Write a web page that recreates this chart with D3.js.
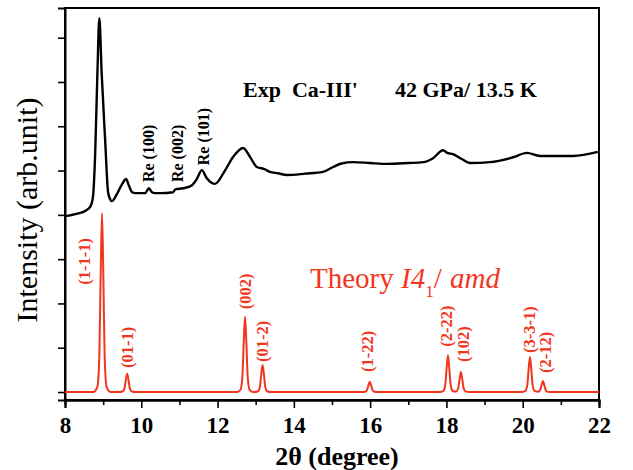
<!DOCTYPE html>
<html>
<head>
<meta charset="utf-8">
<script src="https://cdn.jsdelivr.net/npm/d3@7"></script>
<style>
  body { margin: 0; background: #fff; }
  svg text { font-family: "Liberation Serif", "DejaVu Serif", serif; }
</style>
</head>
<body>
<div id="chart"></div>
<script>
var expCurve = [
  [8.0,3.97],[8.3,4.02],[8.55,4.10],[8.66,4.18],[8.73,4.38],[8.79,5.35],[8.85,7.22],[8.90,8.44],
  [8.96,7.22],[9.05,5.73],[9.13,4.51],[9.18,4.36],[9.23,4.31],[9.35,4.45],[9.50,4.70],[9.60,4.81],
  [9.68,4.65],[9.76,4.51],[9.84,4.49],[10.10,4.49],[10.20,4.60],[10.28,4.51],[10.36,4.49],[10.49,4.49],
  [10.83,4.51],[10.90,4.58],[11.10,4.60],[11.33,4.67],[11.45,4.80],[11.59,5.01],[11.70,4.85],[11.85,4.72],
  [11.93,4.70],[12.20,5.01],[12.41,5.31],[12.67,5.51],[12.85,5.31],[13.03,5.08],[13.24,5.03],[13.37,4.97],
  [13.58,4.94],[13.82,4.90],[14.30,4.93],[14.76,4.97],[15.03,5.08],[15.25,5.16],[15.55,5.19],[16.00,5.17],
  [16.44,5.15],[17.00,5.17],[17.39,5.19],[17.65,5.28],[17.91,5.46],[18.02,5.40],[18.17,5.37],[18.40,5.26],
  [18.62,5.17],[19.14,5.19],[19.75,5.30],[20.11,5.40],[20.45,5.33],[21.00,5.33],[21.32,5.33],[21.97,5.42]
];

// simulated I4_1/amd pattern
var theoryCurve = [
  [8.0,0],
  [8.75,0],[8.85,0.12],[8.90,0.81],[8.935,2.63],[8.97,4.04],[9.005,2.63],[9.04,0.81],[9.09,0.12],[9.19,0],
  [9.41,0],[9.51,0.012],[9.56,0.082],[9.595,0.27],[9.63,0.41],[9.665,0.27],[9.70,0.082],[9.75,0.012],[9.85,0],
  [12.50,0],[12.60,0.05],[12.65,0.34],[12.685,1.11],[12.72,1.70],[12.755,1.11],[12.79,0.34],[12.84,0.05],[12.94,0],
  [12.96,0],[13.06,0.018],[13.11,0.12],[13.145,0.40],[13.18,0.61],[13.215,0.40],[13.25,0.12],[13.30,0.018],[13.40,0],
  [15.77,0],[15.87,0.007],[15.92,0.046],[15.955,0.15],[15.99,0.23],[16.025,0.15],[16.06,0.046],[16.11,0.007],[16.21,0],
  [17.82,0],[17.92,0.025],[17.97,0.17],[18.005,0.54],[18.04,0.83],[18.075,0.54],[18.11,0.17],[18.16,0.025],[18.21,0.01],
  [18.26,0.014],[18.31,0.09],[18.345,0.29],[18.38,0.45],[18.415,0.29],[18.45,0.09],[18.50,0.014],[18.60,0],
  [19.97,0],[20.07,0.024],[20.12,0.16],[20.155,0.51],[20.19,0.79],[20.225,0.51],[20.26,0.16],[20.31,0.024],[20.37,0.01],
  [20.41,0.008],[20.46,0.05],[20.495,0.16],[20.53,0.25],[20.565,0.16],[20.60,0.05],[20.65,0.008],[20.75,0],
  [22.0,0]
];

// hkl labels of the theory peaks, anchored (2theta, intensity) at the label's lower end
var hklLabels = ["(1-1-1)", "(01-1)", "(002)", "(01-2)", "(1-22)", "(2-22)", "(102)", "(3-3-1)", "(2-12)"];
var hklX = [8.52, 9.63, 12.72, 13.19, 15.94, 17.99, 18.46, 20.19, 20.61];
var hklY = [2.42, 0.54, 1.87, 0.68, 0.45, 1.02, 0.68, 0.88, 0.43];

// Re gasket reflections on the experimental curve
var reLabels = ["Re (100)", "Re (002)", "Re (101)"];
var reX = [10.18, 10.94, 11.62];
var reY = [4.74, 4.74, 5.12];

var xMajorTicks = [8, 10, 12, 14, 16, 18, 20, 22];
var xMinorTicks = [9, 11, 13, 15, 17, 19, 21];
var yTicks = [0, 1, 2, 3, 4, 5, 6, 7, 8];

var RED = "#f2361e";
var FONT = "Liberation Serif, DejaVu Serif, serif";
var width = 633, height = 470;

var svg = d3.select("#chart").append("svg")
  .attr("width", width)
  .attr("height", height);

var x = d3.scaleLinear().domain([8, 22]).range([65, 599]);
var y = d3.scaleLinear().domain([-0.18, 8.67]).range([400, 8]);

// frame
svg.append("rect")
  .attr("x", x(8)).attr("y", y(8.67))
  .attr("width", x(22) - x(8)).attr("height", y(-0.18) - y(8.67))
  .attr("fill", "none").attr("stroke", "#000").attr("stroke-width", 2);

// axes
var gMinor = svg.append("g").attr("transform", "translate(0," + y(-0.18) + ")")
  .call(d3.axisBottom(x).tickValues(xMinorTicks).tickSize(5).tickFormat(""));
var gMajor = svg.append("g").attr("transform", "translate(0," + y(-0.18) + ")")
  .call(d3.axisBottom(x).tickValues(xMajorTicks).tickSize(8).tickPadding(9).tickFormat(d3.format("d")));
var gY = svg.append("g").attr("transform", "translate(" + x(8) + ",0)")
  .call(d3.axisLeft(y).tickValues(yTicks).tickSize(7).tickFormat(""));

[gMinor, gMajor, gY].forEach(function(g){
  g.attr("font-family", FONT);
  g.select(".domain").attr("stroke-width", 2);
  g.selectAll(".tick line").attr("stroke-width", 1.6);
});
gMajor.selectAll(".tick text")
  .attr("font-family", FONT)
  .attr("font-weight", "bold")
  .attr("font-size", 23)
  .attr("fill", "#000");

// curves
var line = d3.line()
  .x(function(d){ return x(d[0]); })
  .y(function(d){ return y(d[1]); })
  .curve(d3.curveMonotoneX);

svg.append("path").datum(theoryCurve)
  .attr("d", line).attr("fill", "none")
  .attr("stroke", RED).attr("stroke-width", 2);

svg.append("path").datum(expCurve)
  .attr("d", line).attr("fill", "none")
  .attr("stroke", "#000").attr("stroke-width", 2.4)
  .attr("stroke-linejoin", "round");

// rotated peak labels
function rotLabel(txt, px, py, color, size){
  svg.append("text")
    .attr("transform", "translate(" + px + "," + py + ") rotate(-90)")
    .attr("text-anchor", "start")
    .attr("dominant-baseline", "central")
    .attr("font-family", FONT)
    .attr("font-weight", "bold")
    .attr("font-size", size)
    .attr("fill", color)
    .text(txt);
}
hklLabels.forEach(function(t, i){ rotLabel(t, x(hklX[i]), y(hklY[i]), RED, 16.5); });
reLabels.forEach(function(t, i){ rotLabel(t, x(reX[i]), y(reY[i]), "#000", 16); });

// experiment title
svg.append("text").attr("x", 243).attr("y", 97)
  .attr("font-family", FONT)
  .attr("font-weight", "bold").attr("font-size", 22)
  .attr("xml:space", "preserve")
  .text("Exp  Ca-III'");
svg.append("text").attr("x", 395).attr("y", 97)
  .attr("font-family", FONT)
  .attr("font-weight", "bold").attr("font-size", 22)
  .text("42 GPa/ 13.5 K");

// theory title
var th = svg.append("text").attr("x", 310).attr("y", 288)
  .attr("font-family", FONT)
  .attr("font-size", 29).attr("fill", RED);
th.append("tspan").text("Theory ");
th.append("tspan").attr("x", 401).attr("font-style", "italic").text("I4");
th.append("tspan").attr("font-size", 17).attr("dy", 9).text("1");
th.append("tspan").attr("dy", -9).text("/");
th.append("tspan").attr("x", 450).attr("font-style", "italic").text("amd");

// axis titles
svg.append("text")
  .attr("x", (x(8) + x(22)) / 2 + 5).attr("y", 465)
  .attr("text-anchor", "middle")
  .attr("font-family", FONT)
  .attr("font-weight", "bold").attr("font-size", 26)
  .text("2θ (degree)");

svg.append("text")
  .attr("transform", "translate(37,210) rotate(-90)")
  .attr("text-anchor", "middle")
  .attr("font-family", FONT)
  .attr("font-size", 30)
  .text("Intensity (arb.unit)");
</script>
</body>
</html>
